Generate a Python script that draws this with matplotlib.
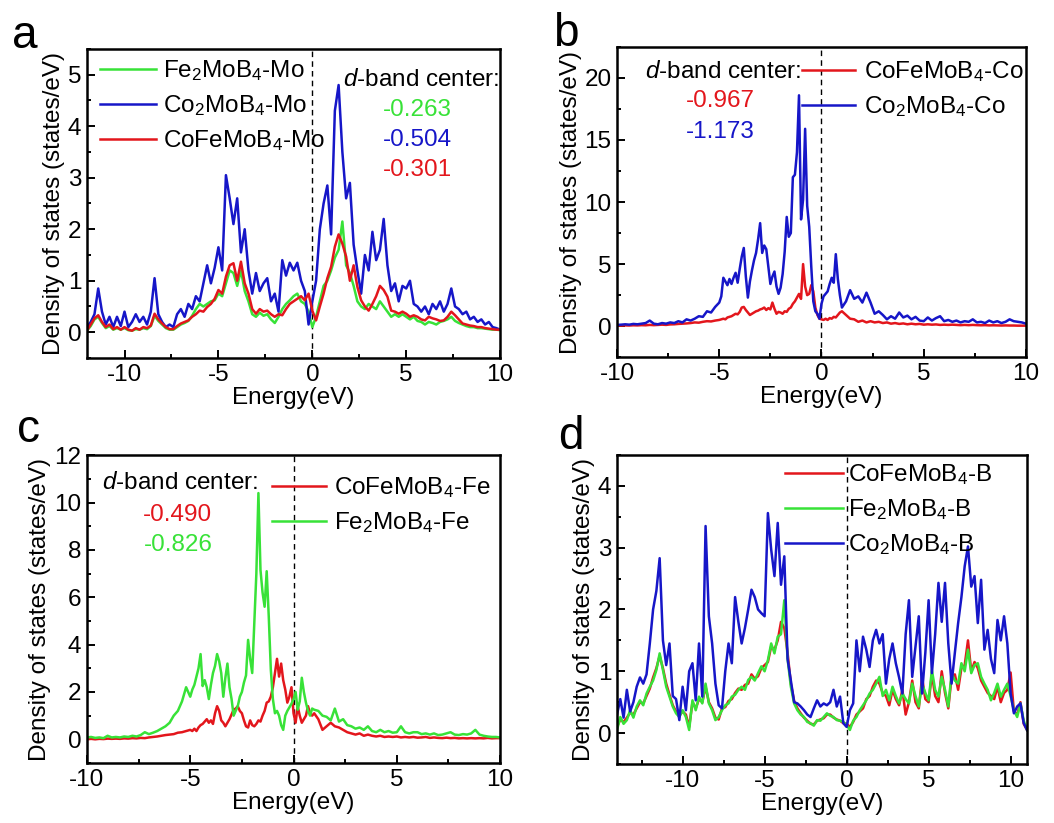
import numpy as np
import matplotlib
matplotlib.use("Agg")
import matplotlib.pyplot as plt
from matplotlib.ticker import MultipleLocator

plt.rcParams['font.family'] = ['Liberation Sans', 'DejaVu Sans']
plt.rcParams['mathtext.fontset'] = 'custom'
plt.rcParams['mathtext.rm'] = 'Liberation Sans'
plt.rcParams['mathtext.it'] = 'Liberation Sans:italic'
plt.rcParams['axes.unicode_minus'] = False

# --- energy grids (eV), finer sampling around the d-band peaks in b/c ---
energy_a = np.round(np.arange(-12.0, 10.01, 0.2), 2)
energy_bc = np.round(np.concatenate([np.arange(-10.0, -5.05, 0.2),
                                     np.arange(-5.0, 1.05, 0.1),
                                     np.arange(1.2, 10.01, 0.2)]), 2)
energy_d = np.round(np.arange(-14.0, 11.01, 0.2), 2)

# --- panel a: Mo projected DOS ---
dos_a_fe2 = [0.03, 0.12, 0.25, 0.30, 0.18, 0.08, 0.12, 0.05, 0.08, 0.05,
             0.08, 0.04, 0.03, 0.06, 0.05, 0.08, 0.06, 0.12, 0.32, 0.22,
             0.15, 0.08, 0.05, 0.05, 0.10, 0.15, 0.18, 0.22, 0.32, 0.45,
             0.55, 0.50, 0.55, 0.60, 0.62, 0.75, 0.70, 0.95, 1.20, 1.15,
             0.90, 1.20, 0.80, 0.60, 0.35, 0.30, 0.38, 0.32, 0.35, 0.25,
             0.18, 0.30, 0.45, 0.55, 0.62, 0.70, 0.75, 0.60, 0.55, 0.40,
             0.10, 0.30, 0.60, 0.90, 1.00, 1.20, 1.45, 1.60, 2.15, 1.30,
             1.15, 0.90, 0.60, 0.50, 0.45, 0.55, 0.50, 0.45, 0.60, 0.50,
             0.40, 0.30, 0.35, 0.30, 0.35, 0.30, 0.25, 0.30, 0.22, 0.20,
             0.15, 0.20, 0.18, 0.15, 0.20, 0.22, 0.25, 0.30, 0.22, 0.18,
             0.15, 0.12, 0.10, 0.10, 0.08, 0.08, 0.07, 0.06, 0.05, 0.05,
             0.04]
dos_a_co2 = [0.10, 0.20, 0.35, 0.85, 0.40, 0.15, 0.30, 0.10, 0.30, 0.12,
             0.40, 0.10, 0.20, 0.35, 0.20, 0.30, 0.15, 0.40, 1.05, 0.35,
             0.20, 0.10, 0.15, 0.10, 0.35, 0.45, 0.30, 0.55, 0.45, 0.70,
             0.60, 0.95, 1.30, 0.95, 1.25, 1.65, 1.20, 3.05, 2.60, 2.10,
             2.60, 1.55, 2.00, 1.20, 0.75, 1.15, 0.80, 0.95, 1.05, 0.60,
             0.75, 0.40, 1.40, 1.10, 1.35, 1.20, 1.35, 1.00, 0.80, 0.15,
             0.60, 1.00, 2.00, 2.50, 2.85, 1.90, 4.30, 4.80, 3.50, 2.60,
             2.90, 1.70, 1.20, 0.75, 1.50, 1.20, 1.95, 1.40, 1.60, 2.20,
             1.30, 0.80, 0.95, 0.60, 0.90, 0.85, 1.00, 0.55, 0.50, 0.40,
             0.50, 0.35, 0.55, 0.45, 0.60, 0.40, 0.55, 0.85, 0.50, 0.45,
             0.35, 0.40, 0.25, 0.30, 0.20, 0.25, 0.15, 0.20, 0.10, 0.08,
             0.05]
dos_a_cofe = [0.03, 0.15, 0.27, 0.33, 0.20, 0.10, 0.15, 0.06, 0.10, 0.05,
              0.10, 0.05, 0.03, 0.08, 0.05, 0.10, 0.08, 0.13, 0.36, 0.25,
              0.17, 0.10, 0.06, 0.06, 0.12, 0.17, 0.20, 0.23, 0.30, 0.35,
              0.42, 0.40, 0.49, 0.55, 0.65, 0.82, 0.75, 1.08, 1.30, 1.34,
              1.00, 1.37, 0.95, 0.75, 0.45, 0.36, 0.45, 0.40, 0.42, 0.35,
              0.30, 0.35, 0.33, 0.45, 0.55, 0.60, 0.65, 0.70, 0.62, 0.75,
              0.42, 0.23, 0.50, 0.75, 1.05, 1.27, 1.66, 1.90, 1.72, 1.47,
              1.00, 1.30, 0.88, 0.62, 0.50, 0.42, 0.55, 0.70, 0.90, 0.82,
              0.69, 0.42, 0.40, 0.36, 0.40, 0.36, 0.30, 0.33, 0.30, 0.25,
              0.23, 0.30, 0.27, 0.25, 0.22, 0.23, 0.30, 0.40, 0.33, 0.25,
              0.17, 0.15, 0.13, 0.12, 0.10, 0.10, 0.08, 0.07, 0.06, 0.05,
              0.05]

# --- panel b: Co projected DOS ---
dos_b_cofe = [0.05, 0.05, 0.06, 0.05, 0.07, 0.06, 0.08, 0.07, 0.10, 0.08,
              0.10, 0.12, 0.10, 0.14, 0.15, 0.18, 0.20, 0.22, 0.25, 0.30,
              0.28, 0.35, 0.40, 0.38, 0.45,
              0.50, 0.55, 0.60, 0.55, 0.70, 0.75, 0.80, 0.90, 1.00, 0.95,
              1.15, 1.50, 1.55, 1.30, 1.10, 0.90, 1.00, 1.10, 1.20, 1.25,
              1.35, 1.40, 1.50, 1.30, 1.45, 1.35, 1.90, 1.40, 1.00, 1.15,
              1.10, 1.00, 1.20, 1.15, 1.40, 1.50, 1.80, 2.00, 2.30, 2.60,
              2.20, 5.00, 3.20, 2.50, 2.60, 3.30, 2.80, 1.50, 0.90, 0.60,
              0.55, 0.50, 0.60, 0.50, 0.65, 0.60, 0.75, 0.70, 0.90, 1.10,
              1.20,
              0.90, 0.60, 0.55, 0.35, 0.45, 0.30, 0.40, 0.30, 0.35, 0.25,
              0.30, 0.20, 0.25, 0.18, 0.22, 0.15, 0.20, 0.15, 0.18, 0.12,
              0.15, 0.12, 0.14, 0.10, 0.12, 0.10, 0.12, 0.10, 0.08, 0.10,
              0.08, 0.10, 0.08, 0.07, 0.08, 0.06, 0.07, 0.06, 0.05, 0.06,
              0.05, 0.05, 0.04, 0.04, 0.04]
dos_b_co2 = [0.10, 0.12, 0.15, 0.12, 0.18, 0.15, 0.20, 0.25, 0.45, 0.20,
             0.15, 0.25, 0.20, 0.30, 0.25, 0.40, 0.30, 0.55, 0.45, 0.60,
             0.80, 0.75, 1.20, 1.10, 1.55,
             1.90, 2.40, 3.90, 3.60, 3.30, 3.80, 3.40, 3.90, 4.30, 3.50,
             4.60, 5.60, 6.30, 4.00, 2.30, 3.60, 4.50, 5.30, 5.90, 7.00,
             8.30, 5.90, 6.50, 6.20, 4.80, 3.40, 4.00, 4.40, 3.20, 2.60,
             3.10, 4.20, 6.00, 8.80, 7.20, 7.50, 12.0, 12.2, 14.0, 18.6,
             8.60, 10.2, 15.9, 9.70, 8.00, 4.80, 2.00, 1.20, 1.00, 0.60,
             1.80, 2.40, 2.60, 2.80, 3.40, 3.90, 3.50, 5.80, 3.80, 2.50,
             1.50,
             2.00, 2.90, 2.20, 2.40, 1.90, 2.70, 1.90, 1.00, 1.20, 0.90,
             0.55, 0.80, 0.60, 1.10, 0.70, 0.85, 0.55, 0.75, 0.45, 0.40,
             0.70, 0.45, 0.65, 0.80, 0.40, 0.50, 0.35, 0.45, 0.30, 0.40,
             0.35, 0.55, 0.30, 0.35, 0.25, 0.45, 0.30, 0.40, 0.25, 0.35,
             0.55, 0.40, 0.35, 0.30, 0.20]

# --- panel c: Fe projected DOS ---
dos_c_cofe = [0.00, 0.02, 0.00, 0.02, 0.01, 0.03, 0.02, 0.03, 0.02, 0.04,
              0.03, 0.05, 0.04, 0.06, 0.05, 0.08, 0.10, 0.12, 0.15, 0.18,
              0.20, 0.22, 0.28, 0.30, 0.35,
              0.40, 0.35, 0.45, 0.35, 0.50, 0.60, 0.65, 0.75, 0.85, 0.70,
              0.80, 0.65, 1.10, 1.40, 1.20, 0.80, 0.70, 0.55, 0.70, 0.85,
              1.05, 1.25, 1.30, 1.40, 1.20, 1.10, 0.80, 0.55, 0.50, 0.80,
              0.60, 0.55, 0.65, 0.80, 0.75, 1.00, 1.20, 1.55, 1.60, 1.80,
              2.20, 2.80, 3.40, 2.65, 3.20, 2.50, 2.10, 1.55, 1.80, 2.20,
              1.10, 0.70, 1.40, 1.00, 0.70, 0.85, 1.00, 1.40, 1.10, 1.00,
              1.10,
              0.85, 0.40, 0.55, 0.70, 0.55, 0.50, 0.40, 0.30, 0.25, 0.20,
              0.25, 0.15, 0.20, 0.15, 0.12, 0.15, 0.10, 0.12, 0.10, 0.12,
              0.08, 0.10, 0.08, 0.10, 0.07, 0.08, 0.10, 0.06, 0.08, 0.06,
              0.05, 0.07, 0.05, 0.06, 0.04, 0.05, 0.04, 0.05, 0.04, 0.05,
              0.04, 0.06, 0.04, 0.05, 0.05]
dos_c_fe2 = [0.08, 0.10, 0.06, 0.08, 0.05, 0.15, 0.08, 0.10, 0.08, 0.12,
             0.10, 0.15, 0.12, 0.18, 0.30, 0.22, 0.28, 0.35, 0.45, 0.55,
             0.70, 1.00, 1.20, 1.60, 2.20,
             1.80, 2.10, 2.30, 2.65, 3.00, 3.60, 2.25, 2.50, 2.20, 1.70,
             2.30, 2.80, 3.10, 3.60, 3.30, 2.80, 1.80, 2.60, 3.20, 2.20,
             1.70, 1.00, 1.20, 1.40, 1.80, 2.00, 2.40, 2.70, 4.20, 3.40,
             2.80, 4.90, 7.00, 10.4, 7.15, 6.20, 5.60, 7.10, 5.20, 2.95,
             1.70, 1.10, 1.20, 1.00, 0.60, 0.40, 1.00, 1.20, 1.35, 1.50,
             1.70, 2.00, 1.25, 1.60, 2.60, 2.00, 1.55, 1.20, 1.00, 1.30,
             1.25,
             1.20, 1.00, 0.95, 0.80, 1.30, 0.75, 0.85, 0.60, 0.55, 0.45,
             0.50, 0.40, 0.55, 0.35, 0.30, 0.40, 0.30, 0.35, 0.28, 0.30,
             0.55, 0.30, 0.25, 0.30, 0.30, 0.22, 0.25, 0.20, 0.25, 0.18,
             0.20, 0.25, 0.30, 0.20, 0.18, 0.22, 0.20, 0.25, 0.40, 0.20,
             0.15, 0.12, 0.10, 0.10, 0.08]

# --- panel d: B projected DOS ---
dos_d_cofe = [0.10, 0.22, 0.18, 0.25, 0.33, 0.30, 0.40, 0.50, 0.48, 0.60,
              0.72, 0.90, 1.05, 1.25, 1.05, 0.80, 0.62, 0.45, 0.35, 0.28,
              0.35, 0.30, 0.10, 0.50, 0.40, 0.55, 0.50, 0.75, 0.50, 0.40,
              0.25, 0.22, 0.40, 0.42, 0.52, 0.55, 0.65, 0.72, 0.70, 0.78,
              0.80, 0.95, 0.88, 0.92, 1.05, 1.10, 1.15, 1.40, 1.35, 1.50,
              1.80, 1.70, 1.30, 0.80, 0.52, 0.40, 0.32, 0.25, 0.20, 0.15,
              0.14, 0.20, 0.22, 0.24, 0.30, 0.30, 0.25, 0.22, 0.20, 0.16,
              0.15, 0.10, 0.18, 0.30, 0.35, 0.40, 0.55, 0.60, 0.75, 0.85,
              0.80, 0.65, 0.60, 0.45, 0.70, 0.55, 0.45, 0.70, 0.30, 0.50,
              0.85, 0.50, 0.40, 0.90, 0.55, 0.50, 0.95, 0.60, 0.50, 1.00,
              0.65, 0.40, 0.90, 0.95, 0.70, 1.05, 1.10, 1.50, 1.00, 1.15,
              1.05, 0.85, 0.75, 0.65, 0.60, 0.55, 0.75, 0.50, 0.65, 0.70,
              0.98, 0.35, 0.30, 0.50, 0.15, 0.05]
dos_d_fe2 = [0.05, 0.26, 0.15, 0.21, 0.37, 0.25, 0.43, 0.53, 0.45, 0.64,
             0.75, 0.85, 1.02, 1.29, 1.02, 0.75, 0.59, 0.43, 0.32, 0.26,
             0.37, 0.26, 0.05, 0.53, 0.37, 0.59, 0.48, 0.80, 0.48, 0.37,
             0.21, 0.26, 0.37, 0.45, 0.48, 0.59, 0.62, 0.70, 0.75, 0.70,
             0.86, 0.91, 0.85, 0.97, 1.08, 1.00, 1.18, 1.45, 1.29, 1.56,
             1.60, 2.15, 1.20, 0.75, 0.48, 0.37, 0.30, 0.26, 0.18, 0.16,
             0.12, 0.21, 0.20, 0.26, 0.32, 0.28, 0.26, 0.21, 0.20, 0.18,
             0.13, 0.05, 0.20, 0.26, 0.37, 0.45, 0.53, 0.64, 0.70, 0.80,
             0.91, 0.60, 0.70, 0.53, 0.75, 0.60, 0.48, 0.64, 0.55, 0.48,
             0.80, 0.60, 0.43, 0.80, 0.65, 0.53, 1.02, 0.70, 0.59, 0.91,
             0.70, 0.43, 0.97, 0.85, 0.80, 1.13, 1.00, 1.35, 0.97, 1.10,
             1.13, 0.91, 0.80, 0.70, 0.53, 0.65, 0.80, 0.59, 0.70, 0.80,
             0.60, 0.37, 0.26, 0.48, 0.20, 0.05]
dos_d_co2 = [0.30, 0.55, 0.25, 0.70, 0.35, 0.50, 0.75, 0.90, 0.80, 0.95,
             1.45, 2.00, 2.30, 2.83, 1.50, 1.10, 1.45, 0.60, 0.55, 0.21,
             0.75, 0.37, 1.00, 1.13, 0.53, 1.45, 0.59, 3.35, 1.89, 1.45,
             0.80, 0.45, 0.40, 1.00, 1.45, 1.13, 2.20, 1.80, 1.45, 1.70,
             2.00, 2.32, 2.20, 2.00, 1.94, 1.89, 3.56, 2.97, 2.54, 3.40,
             2.40, 2.86, 1.20, 0.85, 0.50, 0.48, 0.43, 0.37, 0.30, 0.26,
             0.40, 0.53, 0.43, 0.48, 0.45, 0.50, 0.70, 0.43, 0.59, 0.16,
             0.10, 0.37, 0.48, 1.50, 1.00, 1.56, 1.35, 1.07, 1.50, 1.67,
             1.45, 1.60, 0.80, 1.20, 1.45, 1.13, 0.90, 0.64, 1.60, 2.15,
             0.91, 1.40, 1.89, 0.64, 1.30, 2.15, 0.97, 1.60, 2.43, 1.80,
             2.43, 1.45, 0.80, 1.30, 1.78, 2.20, 2.70, 3.02, 2.37, 2.54,
             1.78, 2.48, 1.35, 1.67, 1.20, 0.97, 1.83, 1.50, 1.89, 1.45,
             0.64, 0.32, 0.43, 0.48, 0.16, 0.05]

band_center_a = ['-0.263', '-0.504', '-0.301']
band_center_b = ['-0.967', '-1.173']
band_center_c = ['-0.490', '-0.826']

RED = '#e3161c'
GREEN = '#38e238'
BLUE = '#1616c8'
FS = 17.5
LW = 1.8


def style_axes(ax, xlim, ylim, xmaj, xmin, ymaj, ymin):
    ax.set_xlim(*xlim)
    ax.set_ylim(*ylim)
    ax.xaxis.set_major_locator(MultipleLocator(xmaj))
    ax.xaxis.set_minor_locator(MultipleLocator(xmin))
    ax.yaxis.set_major_locator(MultipleLocator(ymaj))
    ax.yaxis.set_minor_locator(MultipleLocator(ymin))
    ax.tick_params(which='both', direction='in', top=False, right=False,
                   labelsize=FS, width=1.4, pad=4)
    ax.tick_params(which='major', length=5.5)
    ax.tick_params(which='minor', length=3)
    for s in ax.spines.values():
        s.set_linewidth(1.8)
    ax.axvline(0, color='k', lw=1.0, ls=(0, (4, 3)), zorder=1)
    ax.set_xlabel('Energy(eV)', fontsize=FS, labelpad=1)
    ax.set_ylabel('Density of states (states/eV)', fontsize=FS, labelpad=2)


def add_legend(ax, x, y, hl, htp):
    ax.legend(loc='upper left', bbox_to_anchor=(x, y), frameon=False,
              fontsize=FS, handlelength=hl, handletextpad=htp,
              labelspacing=0.42, borderpad=0, borderaxespad=0)


fig = plt.figure(figsize=(10.54, 8.23), dpi=100)
ax_a = fig.add_axes([0.0825, 0.565, 0.392, 0.3755])
ax_b = fig.add_axes([0.5854, 0.566, 0.388, 0.377])
ax_c = fig.add_axes([0.0825, 0.0729, 0.392, 0.374])
ax_d = fig.add_axes([0.5854, 0.0717, 0.389, 0.3755])

# panel a
ax_a.plot(energy_a, dos_a_fe2, color=GREEN, lw=LW, label='Fe$_2$MoB$_4$-Mo')
ax_a.plot(energy_a, dos_a_co2, color=BLUE, lw=LW, label='Co$_2$MoB$_4$-Mo')
ax_a.plot(energy_a, dos_a_cofe, color=RED, lw=LW, label='CoFeMoB$_4$-Mo')
style_axes(ax_a, (-12, 10), (-0.5, 5.5), 5, 2.5, 1, 0.5)
add_legend(ax_a, 0.031, 0.97, 2.3, 0.3)
ax_a.text(0.62, 0.90, '$d$-band center:', transform=ax_a.transAxes,
          fontsize=FS, va='center', ha='left')
for val, col, yy in zip(band_center_a, [GREEN, BLUE, RED], [0.803, 0.705, 0.608]):
    ax_a.text(0.80, yy, val, color=col, transform=ax_a.transAxes,
              fontsize=FS, va='center', ha='center')

# panel b
ax_b.plot(energy_bc, dos_b_cofe, color=RED, lw=LW, label='CoFeMoB$_4$-Co')
ax_b.plot(energy_bc, dos_b_co2, color=BLUE, lw=LW, label='Co$_2$MoB$_4$-Co')
style_axes(ax_b, (-10, 10), (-2.5, 22.5), 5, 2.5, 5, 2.5)
add_legend(ax_b, 0.452, 0.961, 2.2, 0.34)
ax_b.text(0.068, 0.919, '$d$-band center:', transform=ax_b.transAxes,
          fontsize=FS, va='center', ha='left')
for val, col, yy in zip(band_center_b, [RED, BLUE], [0.826, 0.726]):
    ax_b.text(0.252, yy, val, color=col, transform=ax_b.transAxes,
              fontsize=FS, va='center', ha='center')

# panel c
ax_c.plot(energy_bc, dos_c_cofe, color=RED, lw=LW, label='CoFeMoB$_4$-Fe')
ax_c.plot(energy_bc, dos_c_fe2, color=GREEN, lw=LW, label='Fe$_2$MoB$_4$-Fe')
style_axes(ax_c, (-10, 10), (-1, 12), 5, 2.5, 2, 1)
add_legend(ax_c, 0.448, 0.935, 2.2, 0.34)
ax_c.text(0.036, 0.909, '$d$-band center:', transform=ax_c.transAxes,
          fontsize=FS, va='center', ha='left')
for val, col, yy in zip(band_center_c, [RED, GREEN], [0.805, 0.708]):
    ax_c.text(0.22, yy, val, color=col, transform=ax_c.transAxes,
              fontsize=FS, va='center', ha='center')

# panel d
ax_d.plot(energy_d, dos_d_cofe, color=RED, lw=LW, label='CoFeMoB$_4$-B')
ax_d.plot(energy_d, dos_d_fe2, color=GREEN, lw=LW, label='Fe$_2$MoB$_4$-B')
ax_d.plot(energy_d, dos_d_co2, color=BLUE, lw=LW, label='Co$_2$MoB$_4$-B')
style_axes(ax_d, (-14, 11), (-0.5, 4.5), 5, 2.5, 1, 0.5)
add_legend(ax_d, 0.41, 0.977, 2.4, 0.2)

# panel letters
for letter, x, y in [('a', 12, 48), ('b', 553, 46), ('c', 17, 442), ('d', 558, 449)]:
    fig.text(x / 1054, 1 - y / 823, letter, fontsize=33, va='baseline', ha='left')

fig.savefig('out.png', dpi=100)
